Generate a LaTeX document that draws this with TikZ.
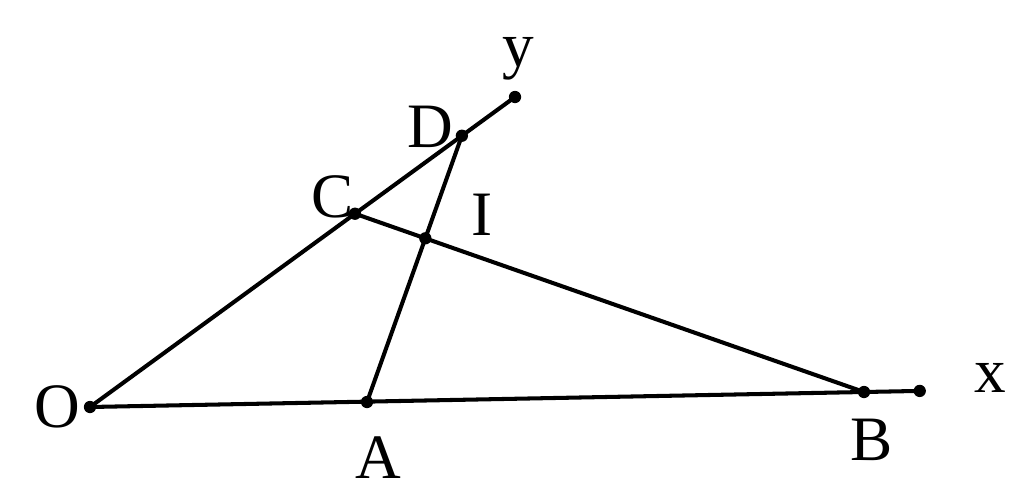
\documentclass[tikz,border=0pt]{standalone}
\usepackage{fontspec}
\setmainfont{Liberation Serif}
\usetikzlibrary{calc}
\begin{document}
\begin{tikzpicture}[line width=2.3pt,
    dot/.style={circle,fill,inner sep=0pt,minimum size=7pt},
    lbl/.style={font=\fontsize{36}{40}\selectfont}]
\useasboundingbox[fill=white] (0,0) rectangle (20.48,9.86);
% Points
\coordinate (O) at (1.80, 1.72);
\coordinate (A) at (7.34, 1.82);
\coordinate (B) at (17.28, 2.02);
\coordinate (X) at ($(O)!1.072!(B)$);
\coordinate (Y) at (10.30, 7.92);
\coordinate (C) at ($(O)!0.6235!(Y)$);
\coordinate (D) at ($(O)!0.875!(Y)$);
\coordinate (I) at (intersection of A--D and C--B);
% Rays and segments
\draw (O) -- (X);
\draw (O) -- (Y);
\draw (C) -- (B);
\draw (A) -- (D);
% Dots
\foreach \p in {O,A,B,X,Y,C,D,I}
    \node[dot] at (\p) {};
% Labels
\node[lbl] (lO) at (1.14, 1.72) {O};
\node[lbl] (lA) at (7.56, 0.70) {A};
\node[lbl] (lB) at (17.44, 1.06) {B};
\node[lbl] (lx) at (19.80, 2.30) {x};
\node[lbl] (ly) at (10.36, 8.68) {y};
\node[lbl] (lD) at (8.60, 7.32) {D};
\node[lbl] (lC) at (6.66, 5.92) {C};
\node[lbl] (lI) at (9.64, 5.56) {I};
\end{tikzpicture}
\end{document}
